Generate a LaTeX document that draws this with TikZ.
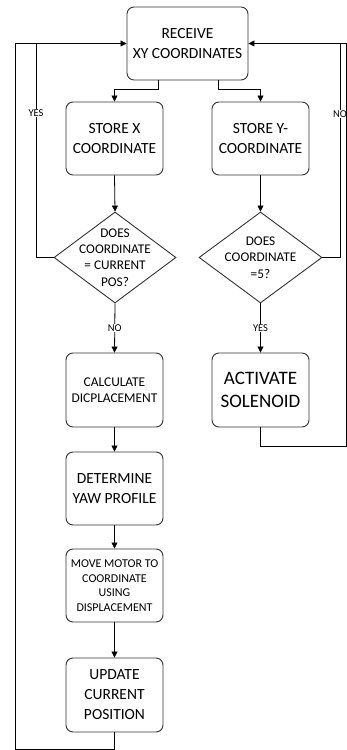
\documentclass[tikz,border=0pt]{standalone}
\usepackage{fontspec}
\setmainfont{Carlito}
\usetikzlibrary{arrows.meta,shapes.geometric}
\begin{document}
\begin{tikzpicture}[x=1pt,y=1pt,
  box/.style={draw=black!80,line width=0.9pt,rounded corners=7pt,minimum width=97pt,minimum height=73pt,inner sep=0pt,align=center,font=\fontsize{15.5}{20}\selectfont},
  dia/.style={draw=black!80,line width=0.9pt,diamond,minimum width=122pt,minimum height=91pt,inner sep=0pt},
  dtext/.style={align=center,font=\fontsize{13.3}{16.3}\selectfont},
  lab/.style={fill=white,inner sep=1pt,font=\fontsize{10.5}{12}\selectfont},
  conn/.style={draw=black,line width=0.8pt},
  arr/.style={conn,-{Triangle[length=6pt,width=6pt]}}
]
\useasboundingbox (0,0) rectangle (347,750);
\node[box,minimum width=121pt] (recv) at (187.5,706.5) {RECEIVE\\XY COORDINATES};
\node[box] (sx) at (114.5,611.5) {STORE X\\COORDINATE};
\node[box] (sy) at (260.5,611.5) {STORE Y-\\COORDINATE};
\node[dia] (d1) at (115,492.5) {};
\node[dtext] (d1t) at (d1) {DOES\\COORDINATE\\= CURRENT\\POS?};
\node[dia,minimum width=123pt] (d2) at (260.5,492.5) {};
\node[dtext] (d2t) at (d2) {DOES\\COORDINATE\\=5?};
\node[box,minimum height=74pt,font=\fontsize{13.4}{16}\selectfont] (calc) at (114.5,360) {CALCULATE\\DICPLACEMENT};
\node[box,minimum height=74pt,font=\fontsize{19}{23}\selectfont] (act) at (260.5,360) {ACTIVATE\\SOLENOID};
\node[box] (yaw) at (114.5,261.5) {DETERMINE\\YAW PROFILE};
\node[box,font=\fontsize{12}{14.5}\selectfont] (move) at (114.5,164.5) {MOVE MOTOR TO\\COORDINATE\\USING\\DISPLACEMENT};
\node[box,minimum height=74pt] (upd) at (114.5,55) {UPDATE\\CURRENT\\POSITION};

\coordinate (yesb) at (36,492.5);
\coordinate (yest) at (36,706.5);
\coordinate (nob) at (340,492.5);
\coordinate (not) at (340,706.5);
\coordinate (sol1) at (260.5,304);
\coordinate (sol2) at (346.6,304);
\coordinate (sol3) at (346.6,706.5);
\coordinate (up1) at (114.5,1);
\coordinate (up2) at (15,1);
\coordinate (up3) at (15,706.5);

\draw[arr] ([xshift=-29.5pt]recv.south) -- ++(0,-9) -| (sx.north);
\draw[arr] ([xshift=30.5pt]recv.south) -- ++(0,-9) -| (sy.north);
\draw[arr] (sx.south) -- (d1.north);
\draw[arr] (sy.south) -- (d2.north);
\draw[arr] (d1.west) -- (yesb) -- (yest) -- (recv.west);
\node[lab] (yeslab) at (36,637) {YES};
\draw[arr] (d2.east) -- (nob) -- (not) -- (recv.east);
\node[lab] (nolab) at (340,636) {NO};
\draw[arr] (d1.south) -- node[lab] (nolab2) {NO} (calc.north);
\draw[arr] (d2.south) -- node[lab] (yeslab2) {YES} (act.north);
\draw[conn] (act.south) -- (sol1) -- (sol2) -- (sol3) -- (not);
\draw[arr] (calc.south) -- (yaw.north);
\draw[arr] (yaw.south) -- (move.north);
\draw[arr] (move.south) -- (upd.north);
\draw[conn] (upd.south) -- (up1) -- (up2) -- (up3) -- (yest);
\end{tikzpicture}
\end{document}
